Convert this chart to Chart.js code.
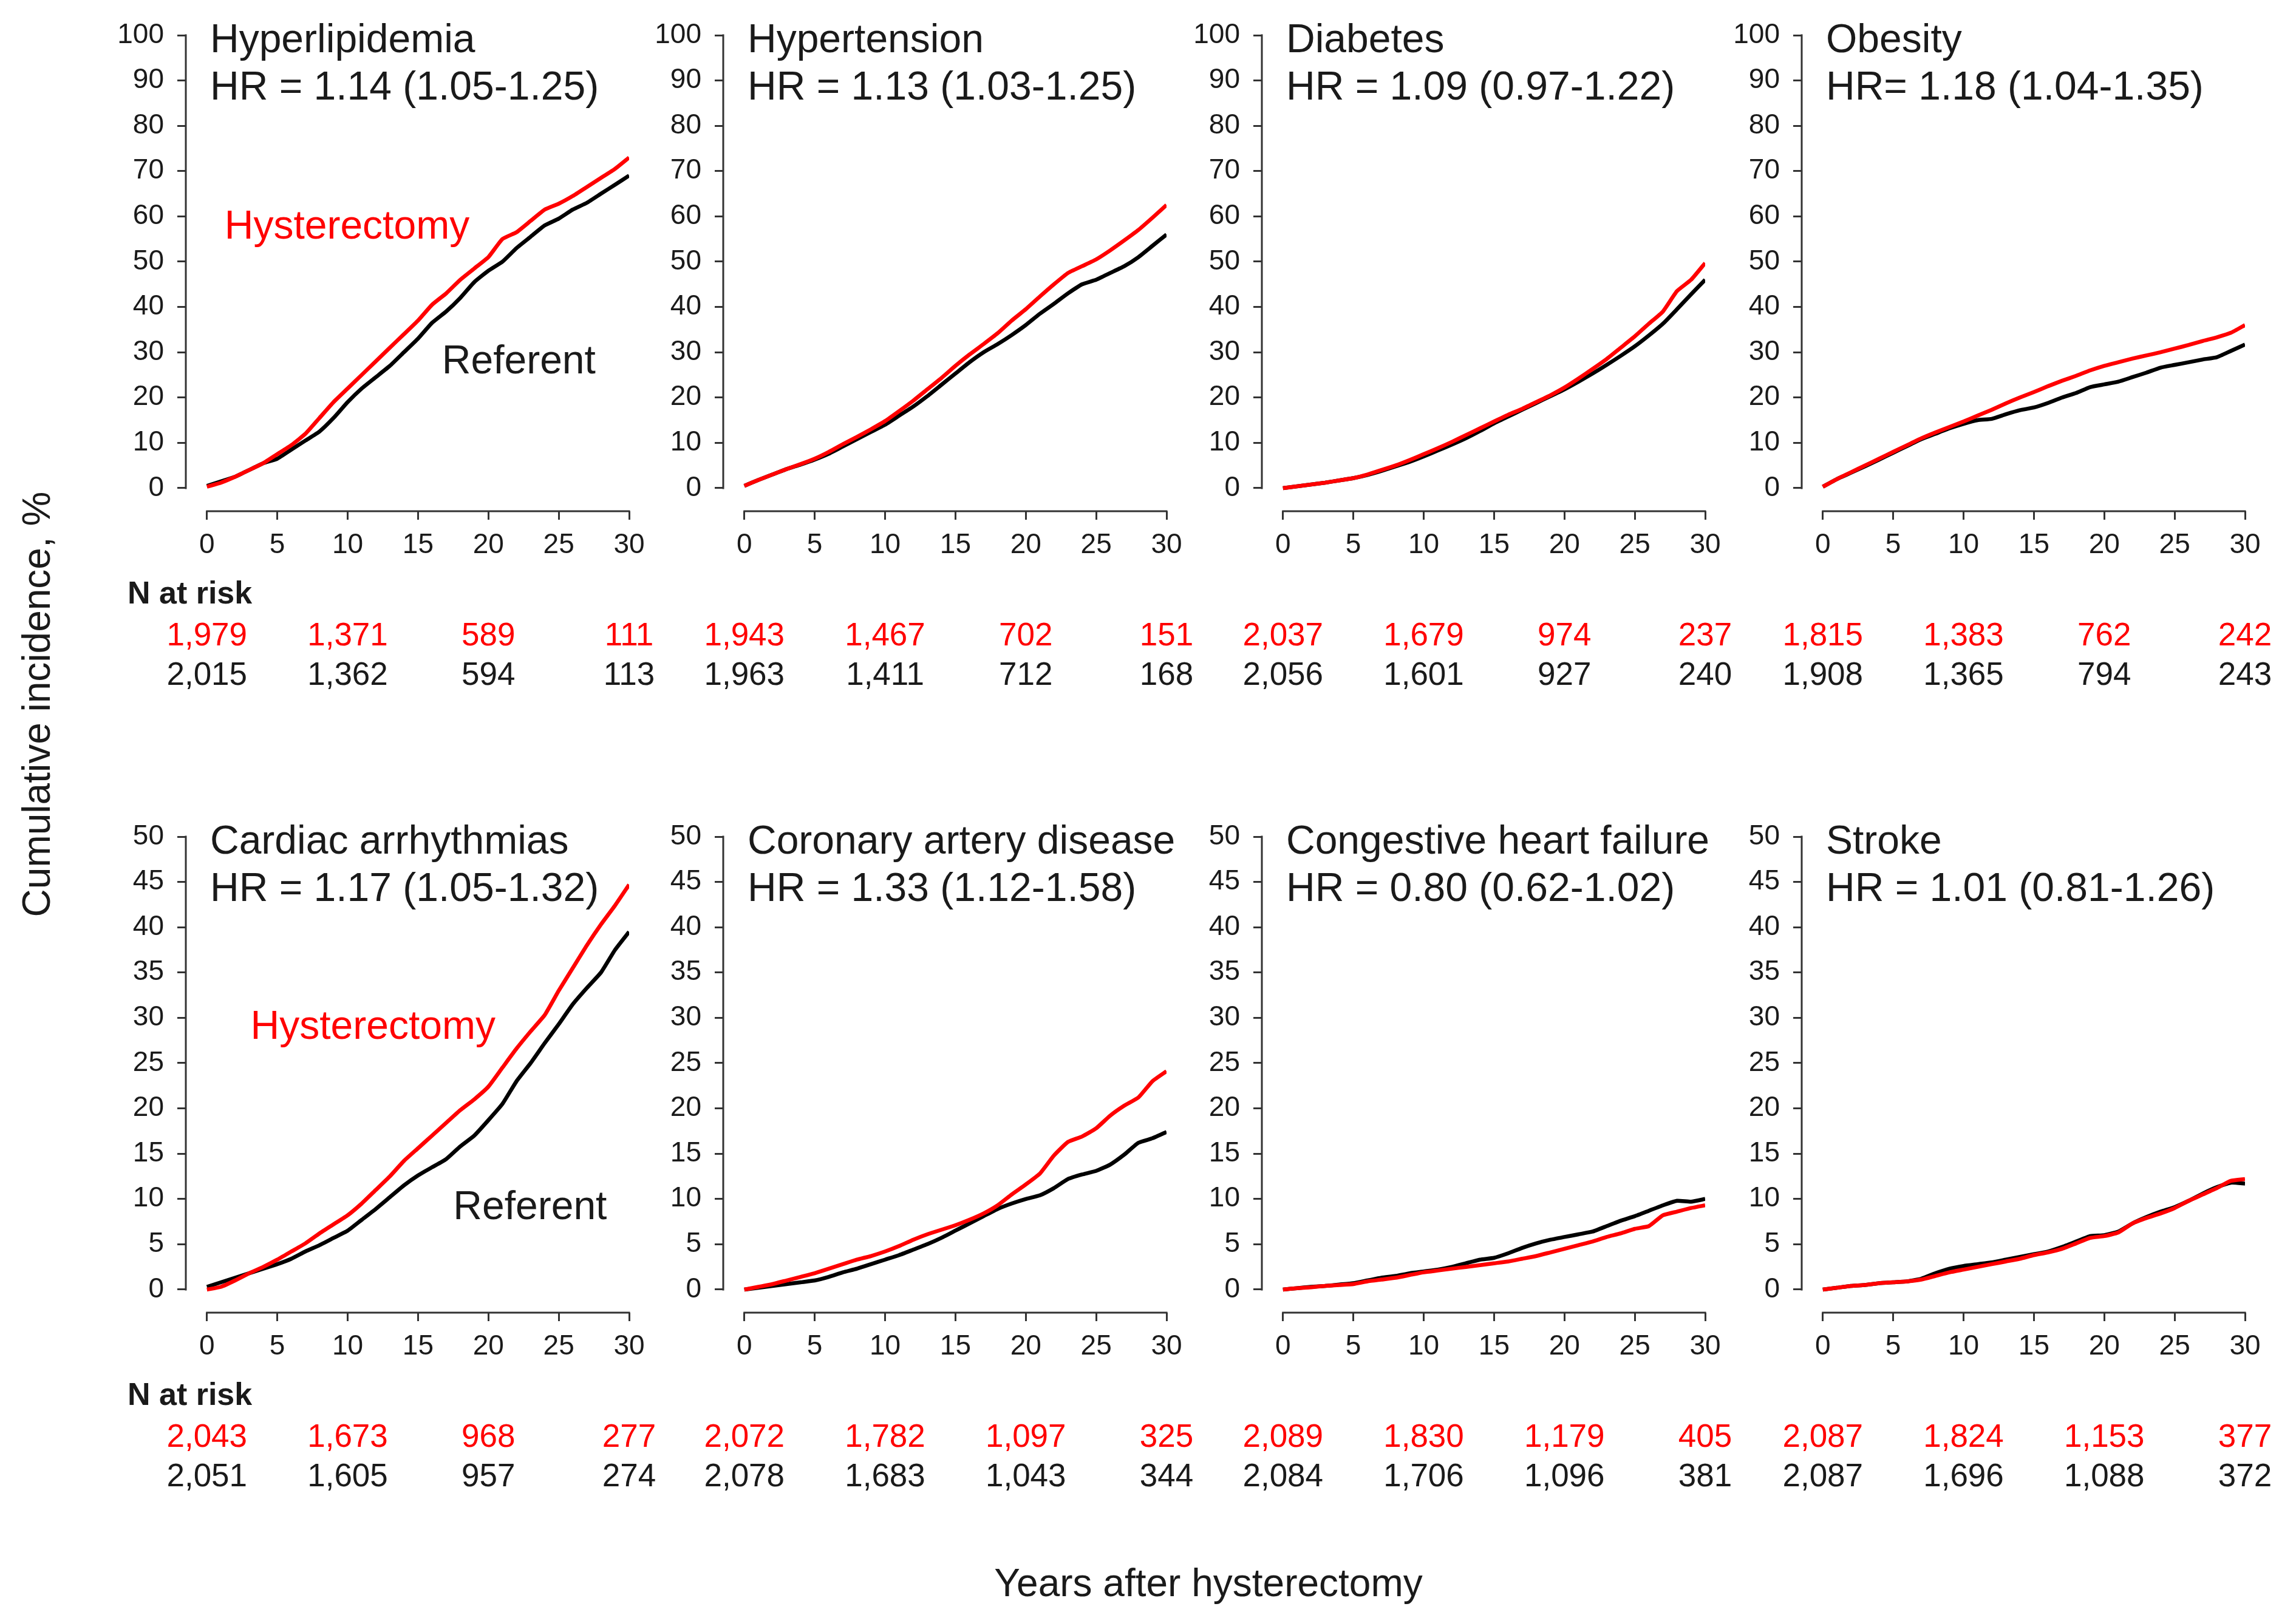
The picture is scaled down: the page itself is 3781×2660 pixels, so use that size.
<!DOCTYPE html>
<html>
<head>
<meta charset="utf-8">
<title>Cumulative incidence after hysterectomy</title>
<script src="https://cdn.jsdelivr.net/npm/chart.js@4.4.1/dist/chart.umd.min.js"></script>
<style>
  html, body { margin: 0; padding: 0; background: #fff; }
  #page { position: relative; width: 3781px; height: 2660px; overflow: hidden;
          font-family: "Liberation Sans", Arial, sans-serif; color: #1a1a1a; }
  #page canvas { position: absolute; }
  .axis-title { position: absolute; font-size: 64px; line-height: 1; white-space: nowrap; }
  #ytitle { left: 60px; top: 1160px; transform: translate(-50%, -50%) rotate(-90deg); }
  #xtitle { left: 1990px; top: 2607px; transform: translate(-50%, -50%); }
</style>
</head>
<body>
<div id="page">
  <div id="ytitle" class="axis-title">Cumulative incidence, %</div>
  <div id="xtitle" class="axis-title">Years after hysterectomy</div>
</div>
<script>
// ---- data ----
var years = [0, 1, 2, 3, 4, 5, 6, 7, 8, 9, 10, 11, 12, 13, 14, 15, 16, 17, 18, 19, 20,
             21, 22, 23, 24, 25, 26, 27, 28, 29, 30];
var xTicks = [0, 5, 10, 15, 20, 25, 30];
var yTicksUpper = [0, 10, 20, 30, 40, 50, 60, 70, 80, 90, 100];
var yTicksLower = [0, 5, 10, 15, 20, 25, 30, 35, 40, 45, 50];
var riskYears = [0, 10, 20, 30];

var hyperlipidemiaHyst = [0.3, 1.2, 2.5, 4, 5.5, 7.5, 9.5, 12, 15.5, 19, 22, 25, 28, 31, 34, 37, 40.5, 43, 46, 48.5, 51,
                          55, 56.5, 59, 61.5, 62.8, 64.5, 66.5, 68.5, 70.5, 73];
var hyperlipidemiaRef  = [0.5, 1.5, 2.5, 4, 5.5, 6.5, 8.5, 10.5, 12.5, 15.5, 19, 22, 24.5, 27, 30, 33, 36.5, 39, 42, 45.5, 48,
                          50, 53, 55.5, 58, 59.5, 61.5, 63, 65, 67, 69];
var hypertensionHyst = [0.5, 1.8, 3, 4.2, 5.3, 6.5, 8, 9.7, 11.3, 13, 14.8, 17, 19.3, 21.8, 24.3, 27, 29.5, 31.8, 34.2, 37, 39.5,
                        42.3, 45, 47.5, 49, 50.5, 52.5, 54.7, 57, 59.7, 62.5];
var hypertensionRef  = [0.5, 1.8, 3, 4.2, 5.2, 6.3, 7.6, 9.2, 10.8, 12.4, 14, 16, 18, 20.3, 22.8, 25.3, 27.8, 30, 31.8, 33.8, 36,
                        38.5, 40.7, 43, 45, 46, 47.5, 49, 51, 53.5, 56];
var diabetesHyst = [0, 0.4, 0.8, 1.2, 1.7, 2.2, 3, 4, 5, 6.2, 7.5, 8.8, 10.2, 11.7, 13.2, 14.7, 16.2, 17.5, 19, 20.5, 22.2,
                    24.2, 26.3, 28.5, 31, 33.5, 36.3, 39, 43.5, 46, 49.7];
var diabetesRef  = [0, 0.4, 0.8, 1.2, 1.7, 2.2, 2.9, 3.8, 4.8, 5.8, 7, 8.3, 9.6, 11, 12.6, 14.3, 15.8, 17.3, 18.8, 20.3, 21.8,
                    23.5, 25.3, 27.2, 29.2, 31.3, 33.7, 36.3, 39.5, 42.8, 46];
var obesityHyst = [0.3, 2, 3.5, 5, 6.5, 8, 9.5, 11, 12.3, 13.5, 14.7, 16, 17.3, 18.7, 20, 21.2, 22.5, 23.7, 24.8, 26, 27,
                   27.8, 28.6, 29.3, 30, 30.8, 31.6, 32.5, 33.3, 34.3, 36];
var obesityRef  = [0.3, 2, 3.4, 4.8, 6.3, 7.8, 9.3, 10.8, 12, 13.2, 14.2, 15, 15.3, 16.3, 17.2, 17.8, 18.8, 20, 21, 22.3, 22.9,
                   23.5, 24.5, 25.5, 26.6, 27.2, 27.8, 28.4, 28.9, 30.3, 31.7];
var arrhythmiaHyst = [0, 0.3, 1, 1.8, 2.5, 3.3, 4.2, 5.1, 6.2, 7.2, 8.2, 9.5, 11, 12.5, 14.2, 15.6, 17, 18.4, 19.8, 21, 22.4,
                      24.5, 26.6, 28.5, 30.3, 33, 35.5, 38, 40.3, 42.4, 44.7];
var arrhythmiaRef  = [0.3, 0.8, 1.3, 1.8, 2.3, 2.8, 3.4, 4.2, 4.9, 5.7, 6.5, 7.7, 8.9, 10.2, 11.5, 12.6, 13.5, 14.4, 15.8, 17, 18.7,
                      20.5, 23, 25, 27.2, 29.3, 31.5, 33.3, 35, 37.5, 39.5];
var coronaryHyst = [0, 0.3, 0.6, 1, 1.4, 1.8, 2.3, 2.8, 3.3, 3.7, 4.2, 4.8, 5.5, 6.1, 6.6, 7.1, 7.7, 8.4, 9.3, 10.5, 11.6,
                    12.8, 14.8, 16.3, 16.9, 17.8, 19.2, 20.3, 21.2, 23, 24.1];
var coronaryRef  = [0, 0.2, 0.4, 0.6, 0.8, 1, 1.4, 1.9, 2.3, 2.8, 3.3, 3.8, 4.4, 5, 5.7, 6.5, 7.3, 8.1, 8.9, 9.5, 10,
                    10.4, 11.2, 12.2, 12.7, 13.1, 13.8, 14.9, 16.2, 16.7, 17.4];
var heartFailureHyst = [0, 0.15, 0.25, 0.4, 0.5, 0.6, 0.9, 1.1, 1.3, 1.6, 1.9, 2.1, 2.3, 2.5, 2.7, 2.9, 3.1, 3.4, 3.7, 4.1, 4.5,
                        4.9, 5.3, 5.8, 6.2, 6.7, 7, 8.2, 8.6, 9, 9.3];
var heartFailureRef  = [0, 0.15, 0.3, 0.4, 0.55, 0.7, 1, 1.3, 1.5, 1.8, 2, 2.2, 2.5, 2.9, 3.3, 3.5, 4, 4.6, 5.1, 5.5, 5.8,
                        6.1, 6.4, 7, 7.6, 8.1, 8.7, 9.3, 9.8, 9.7, 10];
var strokeHyst = [0, 0.2, 0.4, 0.5, 0.7, 0.8, 0.9, 1.1, 1.5, 1.9, 2.2, 2.5, 2.8, 3.1, 3.4, 3.8, 4.1, 4.5, 5.1, 5.7, 5.9,
                  6.3, 7.3, 7.9, 8.4, 9, 9.8, 10.5, 11.2, 12, 12.2];
var strokeRef  = [0, 0.2, 0.4, 0.5, 0.7, 0.8, 0.9, 1.2, 1.8, 2.3, 2.6, 2.8, 3, 3.3, 3.6, 3.9, 4.2, 4.7, 5.3, 5.9, 6,
                  6.4, 7.3, 8, 8.6, 9.1, 9.8, 10.6, 11.3, 11.8, 11.7];

// numbers at risk at 0, 10, 20 and 30 years
var hyperlipidemiaRiskHyst = [1979, 1371, 589, 111];
var hyperlipidemiaRiskRef  = [2015, 1362, 594, 113];
var hypertensionRiskHyst = [1943, 1467, 702, 151];
var hypertensionRiskRef  = [1963, 1411, 712, 168];
var diabetesRiskHyst = [2037, 1679, 974, 237];
var diabetesRiskRef  = [2056, 1601, 927, 240];
var obesityRiskHyst = [1815, 1383, 762, 242];
var obesityRiskRef  = [1908, 1365, 794, 243];
var arrhythmiaRiskHyst = [2043, 1673, 968, 277];
var arrhythmiaRiskRef  = [2051, 1605, 957, 274];
var coronaryRiskHyst = [2072, 1782, 1097, 325];
var coronaryRiskRef  = [2078, 1683, 1043, 344];
var heartFailureRiskHyst = [2089, 1830, 1179, 405];
var heartFailureRiskRef  = [2084, 1706, 1096, 381];
var strokeRiskHyst = [2087, 1824, 1153, 377];
var strokeRiskRef  = [2087, 1696, 1088, 372];

// ---- look ----
var RED = '#ff0000';
var INK = '#1a1a1a';
var AXIS = '#333333';
var FONT = '"Liberation Sans", Arial, sans-serif';

var colAxisX = [306, 1191, 2078, 2967];   // where each y axis line sits
var rowTop = [0, 1320];
var CANVAS_W = 980, CANVAS_H = 1160, GUTTER = 150;

var panels = [
  { title: 'Hyperlipidemia', hr: 'HR = 1.14 (1.05-1.25)', hyst: hyperlipidemiaHyst, ref: hyperlipidemiaRef,
    riskHyst: hyperlipidemiaRiskHyst, riskRef: hyperlipidemiaRiskRef, row: 0, col: 0,
    hystLabel: [1.25, 57.5], refLabel: [16.7, 27.8] },
  { title: 'Hypertension', hr: 'HR = 1.13 (1.03-1.25)', hyst: hypertensionHyst, ref: hypertensionRef,
    riskHyst: hypertensionRiskHyst, riskRef: hypertensionRiskRef, row: 0, col: 1 },
  { title: 'Diabetes', hr: 'HR = 1.09 (0.97-1.22)', hyst: diabetesHyst, ref: diabetesRef,
    riskHyst: diabetesRiskHyst, riskRef: diabetesRiskRef, row: 0, col: 2 },
  { title: 'Obesity', hr: 'HR= 1.18 (1.04-1.35)', hyst: obesityHyst, ref: obesityRef,
    riskHyst: obesityRiskHyst, riskRef: obesityRiskRef, row: 0, col: 3 },
  { title: 'Cardiac arrhythmias', hr: 'HR = 1.17 (1.05-1.32)', hyst: arrhythmiaHyst, ref: arrhythmiaRef,
    riskHyst: arrhythmiaRiskHyst, riskRef: arrhythmiaRiskRef, row: 1, col: 0,
    hystLabel: [3.1, 28.9], refLabel: [17.5, 9.0] },
  { title: 'Coronary artery disease', hr: 'HR = 1.33 (1.12-1.58)', hyst: coronaryHyst, ref: coronaryRef,
    riskHyst: coronaryRiskHyst, riskRef: coronaryRiskRef, row: 1, col: 1 },
  { title: 'Congestive heart failure', hr: 'HR = 0.80 (0.62-1.02)', hyst: heartFailureHyst, ref: heartFailureRef,
    riskHyst: heartFailureRiskHyst, riskRef: heartFailureRiskRef, row: 1, col: 2 },
  { title: 'Stroke', hr: 'HR = 1.01 (0.81-1.26)', hyst: strokeHyst, ref: strokeRef,
    riskHyst: strokeRiskHyst, riskRef: strokeRiskRef, row: 1, col: 3 }
];

function withCommas(n) {
  return String(n).replace(/\B(?=(\d{3})+(?!\d))/g, ',');
}

function toPoints(values) {
  return values.map(function(v, i) { return { x: years[i], y: v }; });
}

// axis lines (detached, R style), titles, group labels and numbers at risk
var panelDecor = {
  id: 'panelDecor',
  afterDatasetsDraw: function(chart, args, opts) {
    var p = panels[opts.panel];
    var ctx = chart.ctx, xs = chart.scales.x, ys = chart.scales.y, area = chart.chartArea;
    var yTicks = p.row === 0 ? yTicksUpper : yTicksLower;
    ctx.save();

    ctx.strokeStyle = AXIS;
    ctx.lineWidth = 3;
    ctx.beginPath();
    ctx.moveTo(area.left, ys.getPixelForValue(yTicks[0]) + 1.5);
    ctx.lineTo(area.left, ys.getPixelForValue(yTicks[yTicks.length - 1]) - 1.5);
    ctx.moveTo(xs.getPixelForValue(xTicks[0]) - 1.5, area.bottom);
    ctx.lineTo(xs.getPixelForValue(xTicks[xTicks.length - 1]) + 1.5, area.bottom);
    ctx.stroke();

    ctx.fillStyle = INK;
    ctx.font = '66px ' + FONT;
    ctx.textAlign = 'left';
    ctx.textBaseline = 'alphabetic';
    ctx.fillText(p.title, area.left + 40, 86);
    ctx.fillText(p.hr, area.left + 40, 164);

    ctx.textBaseline = 'middle';
    if (p.hystLabel) {
      ctx.fillStyle = RED;
      ctx.fillText('Hysterectomy', xs.getPixelForValue(p.hystLabel[0]), ys.getPixelForValue(p.hystLabel[1]));
    }
    if (p.refLabel) {
      ctx.fillStyle = INK;
      ctx.fillText('Referent', xs.getPixelForValue(p.refLabel[0]), ys.getPixelForValue(p.refLabel[1]));
    }

    if (p.col === 0) {
      ctx.fillStyle = INK;
      ctx.font = 'bold 52px ' + FONT;
      ctx.fillText('N at risk', 54, 980);
    }
    ctx.font = '53px ' + FONT;
    ctx.textAlign = 'center';
    riskYears.forEach(function(yr, i) {
      var px = xs.getPixelForValue(yr);
      ctx.fillStyle = RED;
      ctx.fillText(withCommas(p.riskHyst[i]), px, 1048);
      ctx.fillStyle = INK;
      ctx.fillText(withCommas(p.riskRef[i]), px, 1113);
    });
    ctx.restore();
  }
};

function axisGrid() {
  return { display: true, drawOnChartArea: false, drawTicks: true, tickLength: 14, color: AXIS, lineWidth: 3 };
}

var page = document.getElementById('page');

panels.forEach(function(p, idx) {
  var canvas = document.createElement('canvas');
  canvas.width = CANVAS_W;
  canvas.height = CANVAS_H;
  canvas.style.left = (colAxisX[p.col] - GUTTER) + 'px';
  canvas.style.top = rowTop[p.row] + 'px';
  page.appendChild(canvas);

  var yTicks = p.row === 0 ? yTicksUpper : yTicksLower;

  new Chart(canvas.getContext('2d'), {
    type: 'line',
    data: {
      datasets: [{
        label: 'Hysterectomy',
        data: toPoints(p.hyst),
        borderColor: RED,
        borderWidth: 6.5,
        pointRadius: 0,
        tension: 0.15,
        fill: false
      }, {
        label: 'Referent',
        data: toPoints(p.ref),
        borderColor: '#000000',
        borderWidth: 6.5,
        pointRadius: 0,
        tension: 0.15,
        fill: false
      }]
    },
    options: {
      responsive: false,
      animation: false,
      devicePixelRatio: 1,
      layout: { padding: { top: 58, right: 100, bottom: 218, left: 0 } },
      plugins: {
        legend: { display: false },
        tooltip: { enabled: false },
        panelDecor: { panel: idx }
      },
      scales: {
        x: {
          type: 'linear',
          min: -1.5,
          max: 30,
          afterBuildTicks: function(scale) { scale.ticks = xTicks.map(function(v) { return { value: v }; }); },
          afterFit: function(scale) { scale.height = 100; },
          grid: axisGrid(),
          border: { display: false },
          ticks: { font: { family: FONT, size: 46 }, color: INK, padding: 15, maxRotation: 0, autoSkip: false }
        },
        y: {
          min: p.row === 0 ? -5.1 : -2.55,
          max: yTicks[yTicks.length - 1],
          afterBuildTicks: function(scale) { scale.ticks = yTicks.map(function(v) { return { value: v }; }); },
          afterFit: function(scale) { scale.width = GUTTER; },
          grid: axisGrid(),
          border: { display: false },
          ticks: { font: { family: FONT, size: 46 }, color: INK, padding: 22, autoSkip: false }
        }
      }
    },
    plugins: [panelDecor]
  });
});
</script>
</body>
</html>
